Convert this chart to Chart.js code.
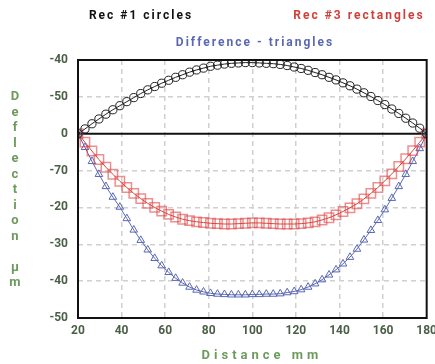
<!DOCTYPE html>
<html>
<head>
<meta charset="utf-8">
<script src="https://cdn.jsdelivr.net/npm/chart.js@4/dist/chart.umd.min.js"></script>
<style>
    html, body { margin: 0; padding: 0; background: #fff; }
    #wrap { position: relative; width: 435px; height: 364px; overflow: hidden; font-family: Roboto, "Noto Sans", sans-serif; }
    .lbl { position: absolute; transform: translate(-50%, -50%); white-space: nowrap; font-weight: bold; font-size: 12px; letter-spacing: 2px; }
    #ytitle { position: absolute; left: 6px; top: 88px; width: 18px; color: #6d9b5e; font-weight: bold; font-size: 13px; text-align: center; }
    #ytitle span { display: block; height: 15.5px; line-height: 15.5px; }
    #xtitle { color: #6d9b5e; font-size: 13px; letter-spacing: 4px; }
    #chartBox { position: absolute; left: 0; top: 0; width: 443px; height: 364px; }
</style>
</head>
<body>
<div id="wrap">
    <div id="chartBox"><canvas id="deflChart"></canvas></div>
    <div class="lbl" style="left:141px;top:15px;color:#111;">Rec #1 circles</div>
    <div class="lbl" style="left:359px;top:15px;color:#d0403a;">Rec #3 rectangles</div>
    <div class="lbl" style="left:255px;top:42px;color:#5a68b4;">Difference - triangles</div>
    <div id="ytitle"></div>
    <div class="lbl" id="xtitle" style="left:262px;top:354px;">Distance mm</div>
</div>
<script>
// distance along the part, mm
const distance = [20, 23.2, 26.4, 29.6, 32.8, 36, 39.2, 42.4, 45.6, 48.8, 52, 55.2, 58.4, 61.6, 64.8, 68, 71.2, 74.4, 77.6, 80.8,
    84, 87.2, 90.4, 93.6, 96.8, 100, 103.2, 106.4, 109.6, 112.8, 116, 119.2, 122.4, 125.6, 128.8, 132, 135.2, 138.4, 141.6, 144.8,
    148, 151.2, 154.4, 157.6, 160.8, 164, 167.2, 170.4, 173.6, 176.8, 180];

// Rec #1 (circles)
const rec1 = [0, 1.3, 2.7, 4.0, 5.3, 6.5, 7.6, 8.7, 9.8, 10.9, 11.9, 12.8, 13.7, 14.5, 15.3, 16.0, 16.7, 17.3, 17.8, 18.3,
    18.6, 18.9, 19.1, 19.2, 19.3, 19.3, 19.2, 19.1, 19.0, 18.8, 18.5, 18.1, 17.7, 17.2, 16.6, 16.0, 15.3, 14.6, 13.8, 13.0,
    12.1, 11.1, 10.1, 9.0, 7.9, 6.7, 5.5, 4.2, 2.9, 1.5, 0];

// Rec #3 (rectangles)
const rec3 = [0, -2.3, -4.7, -7.0, -9.1, -11.0, -12.9, -14.6, -16.2, -17.6, -18.9, -20.0, -21.0, -21.9, -22.6, -23.2, -23.6, -23.9, -24.1, -24.3,
    -24.4, -24.5, -24.5, -24.4, -24.3, -24.2, -24.2, -24.3, -24.4, -24.5, -24.5, -24.5, -24.4, -24.2, -23.9, -23.4, -22.8, -22.0, -21.1, -20.1,
    -19.0, -17.7, -16.2, -14.6, -12.8, -10.9, -8.9, -6.8, -4.6, -2.3, 0];

// Difference (triangles)
const diff = [0, -3.7, -7.5, -11.0, -14.3, -17.2, -19.9, -23.0, -26.1, -28.9, -31.5, -33.8, -35.8, -37.6, -39.2, -40.5, -41.6, -42.4, -42.9, -43.3,
    -43.5, -43.6, -43.7, -43.7, -43.7, -43.6, -43.6, -43.5, -43.5, -43.4, -43.1, -42.8, -42.3, -41.6, -40.7, -39.6, -38.3, -36.9, -35.3, -33.5,
    -31.3, -28.8, -26.2, -23.5, -20.6, -17.5, -14.3, -11.0, -7.5, -4.0, 0];

// y tick positions and the labels printed next to them
const yTickValues = [20, 10, 0, -10, -20, -30, -40, -50];
const yTickLabels = ['-40', '-50', '0', '-70', '-20', '-30', '-40', '-50'];

const zeroLine = [{ x: 20, y: 0 }, { x: 180, y: 0 }];

const yTitle = 'Deflection μm';

// stacked letters for the vertical axis title
const yt = document.getElementById('ytitle');
for (const ch of yTitle) {
    const s = document.createElement('span');
    s.textContent = ch === ' ' ? '\u00a0' : ch;
    yt.appendChild(s);
}

const toXY = (vals) => vals.map((v, i) => ({ x: distance[i], y: v }));

// frame around the plot area
const frameBox = {
    id: 'frameBox',
    afterDatasetsDraw(chart) {
        const a = chart.chartArea;
        const ctx = chart.ctx;
        ctx.save();
        ctx.strokeStyle = '#111';
        ctx.lineWidth = 2;
        ctx.strokeRect(a.left, a.top, a.right - a.left, a.bottom - a.top);
        ctx.restore();
    }
};

const tickFont = { family: 'Roboto', size: 12, weight: 'bold' };

new Chart(document.getElementById('deflChart'), {
    type: 'line',
    data: {
        datasets: [
            {
                data: zeroLine,
                borderColor: '#111',
                borderWidth: 2,
                pointRadius: 0,
                order: 4
            },
            {
                label: 'Difference',
                data: toXY(diff),
                borderColor: '#5a68b4',
                borderWidth: 1,
                pointStyle: 'triangle',
                pointRadius: 4.4,
                pointBorderColor: '#5a68b4',
                pointBackgroundColor: 'rgba(0,0,0,0)',
                pointBorderWidth: 1,
                order: 3
            },
            {
                label: 'Rec #3',
                data: toXY(rec3),
                borderColor: '#e0403a',
                borderWidth: 1,
                pointStyle: 'rect',
                pointRadius: 6.6,
                pointBorderColor: 'rgba(222,70,70,0.6)',
                pointBackgroundColor: 'rgba(0,0,0,0)',
                pointBorderWidth: 1.5,
                order: 2
            },
            {
                label: 'Rec #1',
                data: toXY(rec1),
                borderColor: '#222',
                borderWidth: 1,
                pointStyle: 'circle',
                pointRadius: 4.1,
                pointBorderColor: '#222',
                pointBackgroundColor: 'rgba(0,0,0,0)',
                pointBorderWidth: 1,
                order: 1
            }
        ]
    },
    options: {
        responsive: true,
        maintainAspectRatio: false,
        animation: false,
        layout: { padding: { top: 60, left: 0, right: 0, bottom: 0 } },
        plugins: {
            legend: { display: false },
            tooltip: { enabled: false }
        },
        scales: {
            x: {
                type: 'linear',
                min: 20,
                max: 180,
                ticks: { stepSize: 20, color: '#4b5f47', font: tickFont, padding: 6, maxRotation: 0 },
                grid: {
                    color: (c) => (c.tick.value === 20 || c.tick.value === 180) ? 'rgba(0,0,0,0)' : '#d0d0d0',
                    lineWidth: 1.5,
                    drawTicks: false
                },
                border: { display: false, dash: [5, 4] },
                afterFit: (s) => { s.height = 46; }
            },
            y: {
                min: -50,
                max: 20,
                afterBuildTicks: (s) => { s.ticks = yTickValues.map(v => ({ value: v })); },
                ticks: {
                    color: '#4b5f47',
                    font: tickFont,
                    padding: 10,
                    callback: (v) => yTickLabels[yTickValues.indexOf(v)]
                },
                grid: {
                    color: (c) => (c.tick.value === 20 || c.tick.value === -50 || c.tick.value === 0) ? 'rgba(0,0,0,0)' : '#d0d0d0',
                    lineWidth: 1.5,
                    drawTicks: false
                },
                border: { display: false, dash: [5, 4] },
                afterFit: (s) => { s.width = 78; }
            }
        }
    },
    plugins: [frameBox]
});
</script>
</body>
</html>
